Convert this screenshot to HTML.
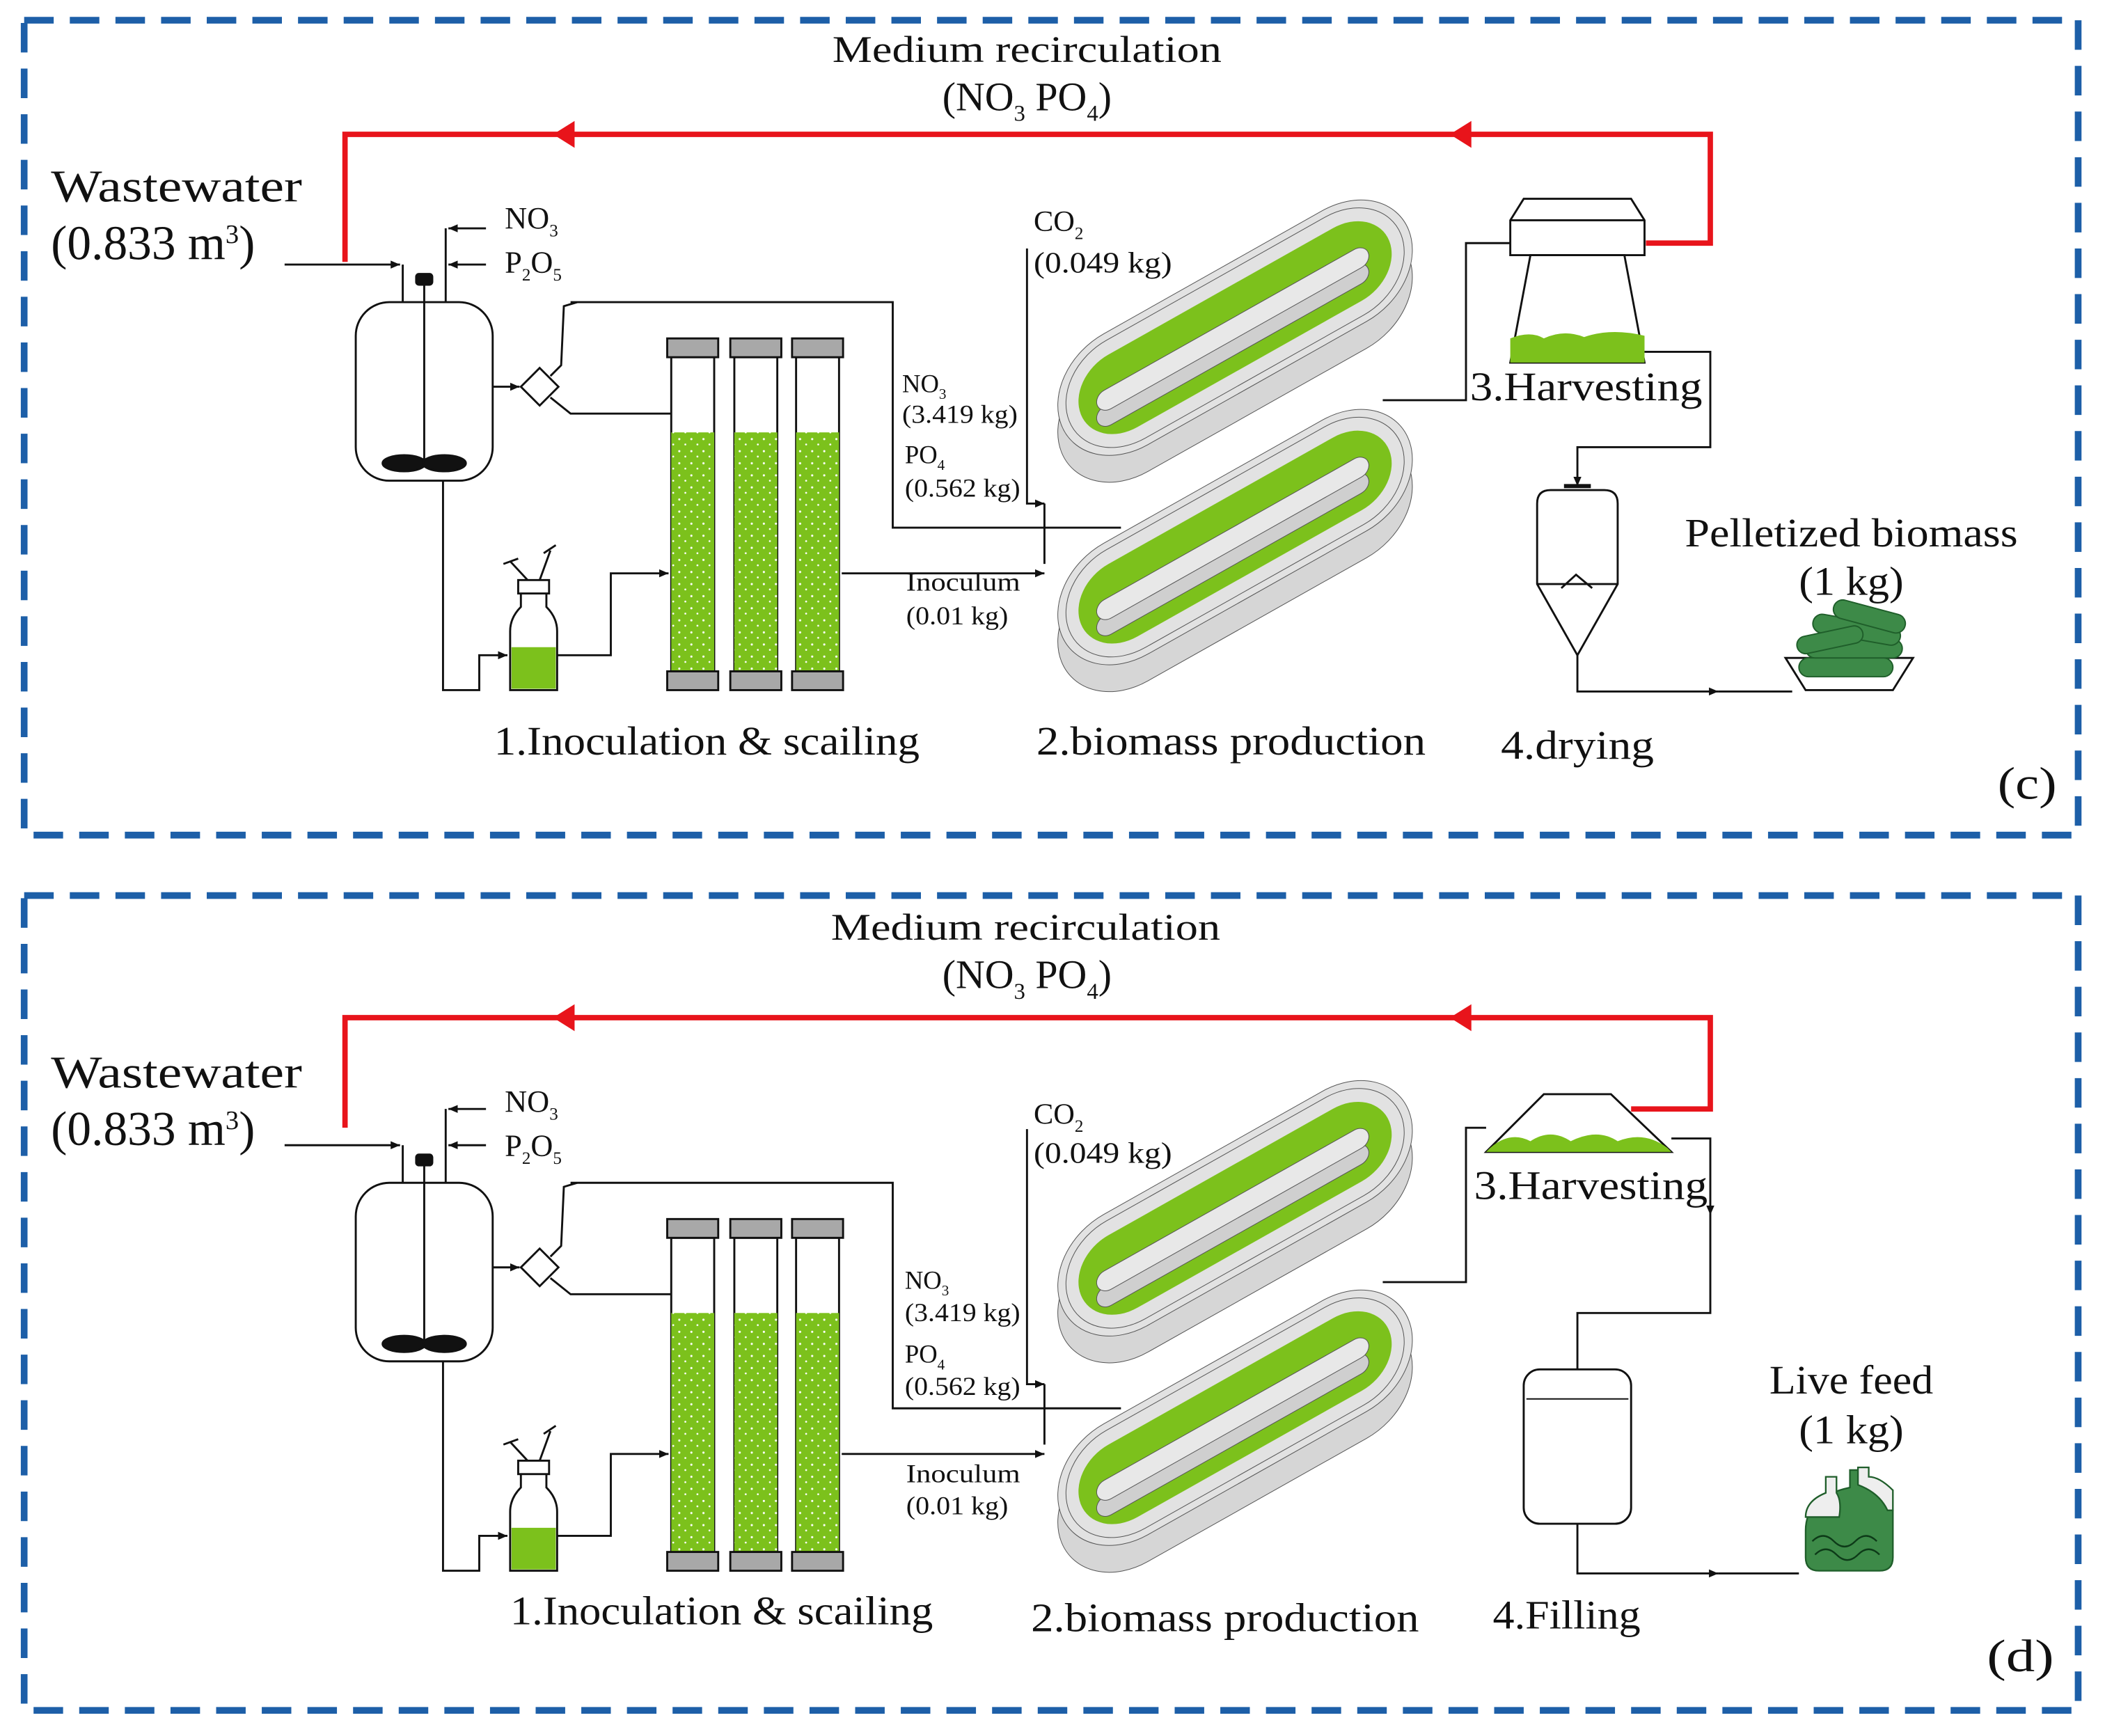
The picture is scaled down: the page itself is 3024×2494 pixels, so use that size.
<!DOCTYPE html>
<html><head><meta charset="utf-8">
<style>
html,body{margin:0;padding:0;background:#fff;}
svg{display:block;}
text{font-family:"Liberation Serif",serif;fill:#111;}
</style></head>
<body>
<svg width="3024" height="2494" viewBox="0 0 1568 1293" xmlns="http://www.w3.org/2000/svg">
<defs>
<marker id="ar" markerWidth="8" markerHeight="8" refX="7" refY="4" orient="auto" markerUnits="userSpaceOnUse">
<path d="M0,1 L7,4 L0,7 z" fill="#111"/></marker>
<pattern id="dots" width="9" height="9" patternUnits="userSpaceOnUse">
<rect width="9" height="9" fill="#7cc11c"/><circle cx="2" cy="3" r="0.8" fill="#fff"/><circle cx="6.5" cy="7" r="0.7" fill="#fff"/></pattern>
<g id="race" stroke="#555" stroke-width="1">
 <g transform="translate(0,20)">
  <rect x="-148.6" y="-55" width="297.2" height="110" rx="55" transform="matrix(0.87,-0.49,0.3,0.75,0,0)" fill="#d6d6d6" vector-effect="non-scaling-stroke"/>
 </g>
 <g transform="matrix(0.87,-0.49,0.3,0.75,0,0)">
  <rect x="-148.6" y="-55" width="297.2" height="110" rx="55" fill="#e2e2e2" vector-effect="non-scaling-stroke"/>
  <rect x="-142" y="-48.5" width="284" height="97" rx="48.5" fill="none" vector-effect="non-scaling-stroke"/>
  <rect x="-132" y="-36" width="264" height="72" rx="36" fill="#7cc11c" stroke="none"/>
 </g>
 <g transform="translate(0,12)">
  <rect x="-118" y="-9" width="232" height="18" rx="9" transform="matrix(0.87,-0.49,0.3,0.75,0,0)" fill="#cfcfcf" vector-effect="non-scaling-stroke"/>
 </g>
 <rect x="-118" y="-9" width="232" height="18" rx="9" transform="matrix(0.87,-0.49,0.3,0.75,0,0)" fill="#e8e8e8" vector-effect="non-scaling-stroke"/>
</g>
<g id="common" fill="none" stroke="#111" stroke-width="1.5">
 <rect x="265" y="225" width="102" height="133" rx="25" fill="#fff"/>
 <line x1="316" y1="210" x2="316" y2="345"/>
 <rect x="310" y="204" width="12" height="8" rx="2" fill="#111"/>
 <ellipse cx="301" cy="345" rx="16" ry="6" fill="#111"/>
 <ellipse cx="331" cy="345" rx="16" ry="6" fill="#111"/>
 <line x1="212" y1="197" x2="298" y2="197" marker-end="url(#ar)"/>
 <line x1="300" y1="197" x2="300" y2="225"/>
 <line x1="332" y1="170" x2="332" y2="225"/>
 <line x1="362" y1="170" x2="334" y2="170" marker-end="url(#ar)"/>
 <line x1="362" y1="197" x2="334" y2="197" marker-end="url(#ar)"/>
 <line x1="367" y1="288" x2="387" y2="288" marker-end="url(#ar)"/>
 <path d="M402,274 L416,288 L402,302 L388,288 Z" fill="#fff"/>
 <polyline points="410,280 418,272 420,228 430,225"/>
 <polyline points="425,225 665,225 665,393 835,393"/>
 <polyline points="410,296 425,308 500,308"/>
 <polyline points="330,358 330,514 357,514 357,488 378,488" marker-end="url(#ar)"/>
 <path d="M388,440 L388,452 Q380,460 380,470 L380,514 L415,514 L415,470 Q415,460 407,452 L407,440 Z" fill="#fff"/>
 <rect x="381" y="482" width="33" height="31" fill="#7cc11c" stroke="none"/>
 <rect x="386" y="432" width="23" height="10" fill="#fff"/>
 <line x1="393" y1="432" x2="380" y2="418"/><line x1="402" y1="432" x2="410" y2="410"/>
 <line x1="375" y1="420" x2="386" y2="416"/><line x1="405" y1="412" x2="414" y2="406"/>
 <polyline points="415,488 455,488 455,427 498,427" marker-end="url(#ar)"/>
 <g>
  <rect x="500" y="266" width="32" height="234" fill="#fff"/>
  <rect x="500" y="322" width="32" height="178" fill="url(#dots)" stroke="none"/>
  <rect x="497" y="252" width="38" height="14" fill="#a8a8a8"/>
  <rect x="497" y="500" width="38" height="14" fill="#a8a8a8"/>
  <rect x="547" y="266" width="32" height="234" fill="#fff"/>
  <rect x="547" y="322" width="32" height="178" fill="url(#dots)" stroke="none"/>
  <rect x="544" y="252" width="38" height="14" fill="#a8a8a8"/>
  <rect x="544" y="500" width="38" height="14" fill="#a8a8a8"/>
  <rect x="593" y="266" width="32" height="234" fill="#fff"/>
  <rect x="593" y="322" width="32" height="178" fill="url(#dots)" stroke="none"/>
  <rect x="590" y="252" width="38" height="14" fill="#a8a8a8"/>
  <rect x="590" y="500" width="38" height="14" fill="#a8a8a8"/>
 </g>
 <line x1="627" y1="427" x2="778" y2="427" marker-end="url(#ar)"/>
 <polyline points="765,185 765,375 778,375" marker-end="url(#ar)"/>
 <line x1="778" y1="375" x2="778" y2="420"/>
 <use href="#race" transform="translate(920,244)"/>
 <use href="#race" transform="translate(920,400)"/>
</g>
</defs>

<!-- ========== PANEL C ========== -->
<rect x="18" y="15" width="1530" height="607" fill="none" stroke="#1d5fa8" stroke-width="5" stroke-dasharray="22,12"/>
<text x="620" y="46" font-size="28" textLength="290" lengthAdjust="spacingAndGlyphs">Medium recirculation</text>
<text x="765" y="82" font-size="30" text-anchor="middle">(NO<tspan font-size="17" dy="8">3</tspan><tspan dy="-8"> PO</tspan><tspan font-size="17" dy="8">4</tspan><tspan dy="-8">)</tspan></text>
<polyline points="257,195 257,100 1274,100 1274,181 1226,181" fill="none" stroke="#e8141b" stroke-width="4"/>
<path d="M412,100 L428,90 L428,110 Z" fill="#e8141b"/>
<path d="M1080,100 L1096,90 L1096,110 Z" fill="#e8141b"/>
<text x="38" y="150" font-size="34" textLength="187" lengthAdjust="spacingAndGlyphs">Wastewater</text>
<text x="38" y="193" font-size="36">(0.833 m<tspan font-size="20" dy="-12">3</tspan><tspan dy="12">)</tspan></text>
<text x="376" y="170" font-size="23">NO<tspan font-size="13" dy="6">3</tspan></text>
<text x="376" y="203" font-size="23">P<tspan font-size="13" dy="6">2</tspan><tspan dy="-6">O</tspan><tspan font-size="13" dy="6">5</tspan></text>
<use href="#common"/>
<text x="770" y="172" font-size="22">CO<tspan font-size="13" dy="6">2</tspan></text>
<text x="770" y="203" font-size="22" textLength="103" lengthAdjust="spacingAndGlyphs">(0.049 kg)</text>
<text x="672" y="292" font-size="19">NO<tspan font-size="11" dy="5">3</tspan></text>
<text x="672" y="315" font-size="19" textLength="86" lengthAdjust="spacingAndGlyphs">(3.419 kg)</text>
<text x="674" y="345" font-size="19">PO<tspan font-size="11" dy="5">4</tspan></text>
<text x="674" y="370" font-size="19" textLength="86" lengthAdjust="spacingAndGlyphs">(0.562 kg)</text>
<text x="675" y="440" font-size="19" textLength="85" lengthAdjust="spacingAndGlyphs">Inoculum</text>
<text x="675" y="465" font-size="19" textLength="76" lengthAdjust="spacingAndGlyphs">(0.01 kg)</text>
<g fill="none" stroke="#111" stroke-width="1.5">
 <polyline points="1030,298 1092,298 1092,181 1125,181"/>
 <path d="M1125,164 L1135,148 L1215,148 L1225,164 L1225,190 L1125,190 Z" fill="#fff"/>
 <line x1="1125" y1="164" x2="1225" y2="164"/>
 <path d="M1140,190 L1210,190 L1225,270 L1125,270 Z" fill="#fff"/>
 <path d="M1125,252 Q1140,246 1150,252 Q1165,245 1180,251 Q1200,244 1225,250 L1225,270 L1125,270 Z" fill="#7cc11c" stroke="none"/>
 <polyline points="1225,262 1274,262 1274,333 1175,333 1175,362" marker-end="url(#ar)"/>
 <path d="M1145,435 L1145,375 Q1145,365 1155,365 L1195,365 Q1205,365 1205,375 L1205,435 L1175,488 Z" fill="#fff"/>
 <line x1="1145" y1="435" x2="1205" y2="435"/>
 <line x1="1165" y1="362" x2="1185" y2="362" stroke-width="3"/>
 <polyline points="1163,438 1174,428 1186,438"/>
 <polyline points="1175,488 1175,515 1280,515" marker-end="url(#ar)"/>
 <line x1="1280" y1="515" x2="1335" y2="515"/>
 <path d="M1330,490 L1425,490 L1410,514 L1345,514 Z" fill="#fff"/>
 <g stroke="#1f5e2a" stroke-width="1" fill="#3d8a48">
  <rect x="1340" y="490" width="70" height="14" rx="7"/>
  <rect x="1345" y="476" width="72" height="14" rx="7"/>
  <rect x="1350" y="462" width="66" height="14" rx="7" transform="rotate(10 1383 469)"/>
  <rect x="1365" y="452" width="55" height="14" rx="7" transform="rotate(15 1392 459)"/>
  <rect x="1338" y="470" width="50" height="13" rx="6.5" transform="rotate(-12 1363 476)"/>
 </g>
</g>
<text x="1095" y="298" font-size="30" textLength="173" lengthAdjust="spacingAndGlyphs">3.Harvesting</text>
<text x="1255" y="407" font-size="30" textLength="248" lengthAdjust="spacingAndGlyphs">Pelletized biomass</text>
<text x="1340" y="443" font-size="30" textLength="78" lengthAdjust="spacingAndGlyphs">(1 kg)</text>
<text x="368" y="562" font-size="30" textLength="317" lengthAdjust="spacingAndGlyphs">1.Inoculation &amp; scailing</text>
<text x="772" y="562" font-size="30" textLength="290" lengthAdjust="spacingAndGlyphs">2.biomass production</text>
<text x="1118" y="565" font-size="30" textLength="114" lengthAdjust="spacingAndGlyphs">4.drying</text>
<text x="1488" y="595" font-size="34" textLength="44" lengthAdjust="spacingAndGlyphs">(c)</text>

<!-- ========== PANEL D ========== -->
<rect x="18" y="667" width="1530" height="607" fill="none" stroke="#1d5fa8" stroke-width="5" stroke-dasharray="22,12"/>
<text x="619" y="700" font-size="28" textLength="290" lengthAdjust="spacingAndGlyphs">Medium recirculation</text>
<text x="765" y="736" font-size="30" text-anchor="middle">(NO<tspan font-size="17" dy="8">3</tspan><tspan dy="-8"> PO</tspan><tspan font-size="17" dy="8">4</tspan><tspan dy="-8">)</tspan></text>
<polyline points="257,840 257,758 1274,758 1274,826 1215,826" fill="none" stroke="#e8141b" stroke-width="4"/>
<path d="M412,758 L428,748 L428,768 Z" fill="#e8141b"/>
<path d="M1080,758 L1096,748 L1096,768 Z" fill="#e8141b"/>
<text x="38" y="810" font-size="34" textLength="187" lengthAdjust="spacingAndGlyphs">Wastewater</text>
<text x="38" y="853" font-size="36">(0.833 m<tspan font-size="20" dy="-12">3</tspan><tspan dy="12">)</tspan></text>
<text x="376" y="828" font-size="23">NO<tspan font-size="13" dy="6">3</tspan></text>
<text x="376" y="861" font-size="23">P<tspan font-size="13" dy="6">2</tspan><tspan dy="-6">O</tspan><tspan font-size="13" dy="6">5</tspan></text>
<use href="#common" transform="translate(0,656)"/>
<text x="770" y="837" font-size="22">CO<tspan font-size="13" dy="6">2</tspan></text>
<text x="770" y="866" font-size="22" textLength="103" lengthAdjust="spacingAndGlyphs">(0.049 kg)</text>
<text x="674" y="960" font-size="19">NO<tspan font-size="11" dy="5">3</tspan></text>
<text x="674" y="984" font-size="19" textLength="86" lengthAdjust="spacingAndGlyphs">(3.419 kg)</text>
<text x="674" y="1015" font-size="19">PO<tspan font-size="11" dy="5">4</tspan></text>
<text x="674" y="1039" font-size="19" textLength="86" lengthAdjust="spacingAndGlyphs">(0.562 kg)</text>
<text x="675" y="1104" font-size="19" textLength="85" lengthAdjust="spacingAndGlyphs">Inoculum</text>
<text x="675" y="1128" font-size="19" textLength="76" lengthAdjust="spacingAndGlyphs">(0.01 kg)</text>
<g fill="none" stroke="#111" stroke-width="1.5">
 <polyline points="1030,955 1092,955 1092,840 1107,840"/>
 <path d="M1107,858 L1150,815 L1200,815 L1245,858 Z" fill="#fff"/>
 <path d="M1110,855 Q1125,842 1140,850 Q1155,840 1170,850 Q1190,840 1205,850 Q1225,842 1242,855 L1245,858 L1107,858 Z" fill="#7cc11c" stroke="none"/>
 <polyline points="1245,848 1274,848 1274,905" marker-end="url(#ar)"/>
 <polyline points="1274,905 1274,978 1175,978 1175,1020"/>
 <rect x="1135" y="1020" width="80" height="115" rx="12" fill="#fff"/>
 <line x1="1137" y1="1042" x2="1213" y2="1042" stroke-width="1"/>
 <polyline points="1175,1135 1175,1172 1280,1172" marker-end="url(#ar)"/>
 <line x1="1280" y1="1172" x2="1340" y2="1172"/>
 <g stroke="#1f5e2a" stroke-width="1.2">
  <path d="M1378,1095 L1378,1108 Q1345,1115 1345,1140 L1345,1160 Q1345,1170 1355,1170 L1400,1170 Q1410,1170 1410,1160 L1410,1125 Q1405,1110 1390,1108 L1390,1095 Z" fill="#3d8a48"/>
  <path d="M1360,1100 L1360,1112 Q1345,1118 1345,1130 L1370,1130 Q1372,1118 1368,1112 L1368,1100 Z" fill="#eee"/>
  <path d="M1384,1093 L1384,1106 Q1400,1112 1406,1125 L1410,1125 L1410,1110 Q1400,1100 1392,1100 L1392,1093 Z" fill="#eee"/>
  <path d="M1350,1148 q8,-8 16,0 q8,8 16,0 q8,-8 16,0 M1352,1158 q8,-8 16,0 q8,8 16,0 q8,-8 16,0" fill="none" stroke="#0d3a18"/>
 </g>
</g>
<text x="1098" y="893" font-size="30" textLength="174" lengthAdjust="spacingAndGlyphs">3.Harvesting</text>
<text x="1318" y="1038" font-size="30" textLength="122" lengthAdjust="spacingAndGlyphs">Live feed</text>
<text x="1340" y="1075" font-size="30" textLength="78" lengthAdjust="spacingAndGlyphs">(1 kg)</text>
<text x="380" y="1210" font-size="30" textLength="315" lengthAdjust="spacingAndGlyphs">1.Inoculation &amp; scailing</text>
<text x="768" y="1215" font-size="30" textLength="289" lengthAdjust="spacingAndGlyphs">2.biomass production</text>
<text x="1112" y="1213" font-size="30" textLength="110" lengthAdjust="spacingAndGlyphs">4.Filling</text>
<text x="1480" y="1245" font-size="34" textLength="50" lengthAdjust="spacingAndGlyphs">(d)</text>
</svg>
</body></html>
